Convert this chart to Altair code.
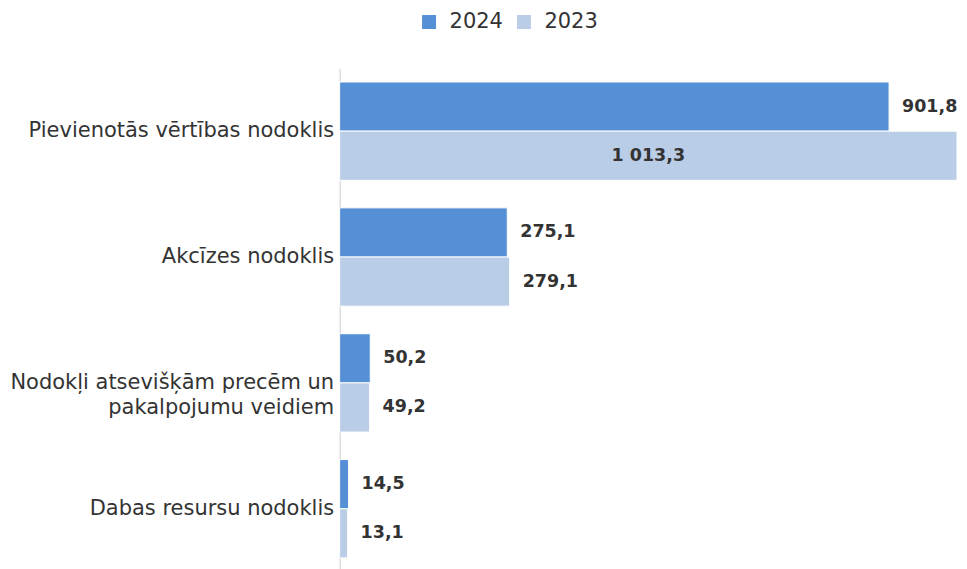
import altair as alt
import pandas as pd

categories = [
    "Pievienotās vērtības nodoklis",
    "Akcīzes nodoklis",
    "Nodokļi atsevišķām precēm un pakalpojumu veidiem",
    "Dabas resursu nodoklis",
]
series = ["2024", "2023"]
values_2024 = [901.8, 275.1, 50.2, 14.5]
values_2023 = [1013.3, 279.1, 49.2, 13.1]
colors = ["#558fd6", "#b9cde6"]


def fmt(v):
    s = f"{v:,.1f}"
    return s.replace(",", " ").replace(".", ",")


rows = []
for c, a, b in zip(categories, values_2024, values_2023):
    rows.append({"cat": c, "series": "2024", "value": a, "label": fmt(a)})
    rows.append({"cat": c, "series": "2023", "value": b, "label": fmt(b)})
df = pd.DataFrame(rows)

FONT = "DejaVu Sans"

y = alt.Y(
    "cat:N",
    sort=categories,
    scale=alt.Scale(paddingInner=0, paddingOuter=0),
    axis=alt.Axis(
        title=None,
        ticks=False,
        domainColor="#cccccc",
        domainWidth=1,
        labelFont=FONT,
        labelFontSize=21,
        labelColor="#333333",
        labelPadding=6,
        labelLimit=400,
        labelLineHeight=25,
        labelExpr="datum.label == 'Nodokļi atsevišķām precēm un pakalpojumu veidiem' ? ['Nodokļi atsevišķām precēm un', 'pakalpojumu veidiem'] : datum.label",
    ),
)
yoff = alt.YOffset("series:N", sort=series, scale=alt.Scale(paddingInner=0, paddingOuter=0.28))
xscale = alt.Scale(domain=[0, 1013.3], nice=False, zero=True)

bars = alt.Chart(df).mark_bar(stroke="white", strokeWidth=1).encode(
    y=y,
    yOffset=yoff,
    x=alt.X("value:Q", scale=xscale, axis=None),
    color=alt.Color(
        "series:N",
        sort=series,
        scale=alt.Scale(domain=series, range=colors),
        legend=alt.Legend(
            title=None,
            orient="none",
            direction="horizontal",
            legendX=79,
            legendY=-57,
            symbolType="square",
            symbolSize=196,
            symbolStrokeWidth=0,
            labelFont=FONT,
            labelFontSize=21,
            labelColor="#333333",
            labelOffset=10,
            columnPadding=10,
        ),
    ),
)

outside = alt.Chart(df).transform_filter("datum.value < 1000").mark_text(
    align="left", baseline="middle", dx=13, font=FONT, fontSize=17.5, fontWeight="bold", color="#333333"
).encode(
    y=y,
    yOffset=yoff,
    x=alt.X("value:Q", scale=xscale, axis=None),
    text="label:N",
)

inside = alt.Chart(df).transform_filter("datum.value >= 1000").transform_calculate(
    mid="datum.value / 2"
).mark_text(
    align="center", baseline="middle", font=FONT, fontSize=17.5, fontWeight="bold", color="#333333"
).encode(
    y=y,
    yOffset=yoff,
    x=alt.X("mid:Q", scale=xscale, axis=None),
    text="label:N",
)

chart = alt.layer(bars, outside, inside).properties(
    width=618,
    height=504,
    autosize=alt.AutoSizeParams(type="none"),
    padding={"left": 332, "top": 60, "right": 2, "bottom": 0},
).configure_view(stroke=None)

chart.save("out.html", embed_options={"renderer": "svg", "actions": False})
